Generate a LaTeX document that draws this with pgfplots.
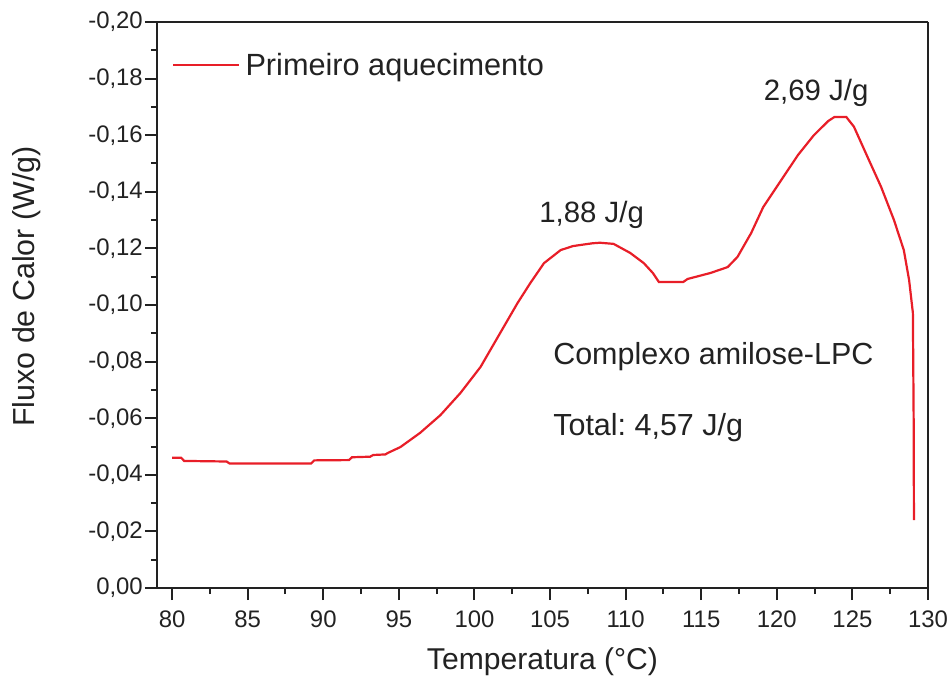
\documentclass[border=0pt]{standalone}
\usepackage{pgfplots}
\pgfplotsset{compat=1.18}
\usepackage{fontspec}
\setmainfont{Liberation Sans}
\frenchspacing

\definecolor{curvered}{RGB}{232,30,40}
\definecolor{inkgray}{RGB}{34,34,34}

% DSC heating curve, first heating
\pgfplotstableread{
T      q
80.0   -0.0460
80.6   -0.0460
80.8   -0.0449
83.6   -0.0447
83.8   -0.0440
89.2   -0.0440
89.4   -0.0451
91.7   -0.0452
91.9   -0.0462
93.1   -0.0464
93.3   -0.0470
94.1   -0.0472
94.3   -0.0478
95.1   -0.0498
96.4   -0.0548
97.75  -0.0611
99.07  -0.0689
100.4  -0.0781
101.7  -0.0901
102.85 -0.1007
103.7  -0.1078
104.6  -0.1148
105.7  -0.1194
106.5  -0.1208
107.0  -0.1212
107.8  -0.1218
108.3  -0.1220
109.2  -0.1216
110.3  -0.1184
111.2  -0.1148
111.8  -0.1113
112.2  -0.1081
113.8  -0.1081
114.1  -0.1092
115.6  -0.1113
116.75 -0.1134
117.4  -0.1170
118.3  -0.1254
119.1  -0.1346
120.3  -0.1442
121.4  -0.1530
122.45 -0.1600
123.4  -0.1650
123.8  -0.1664
124.6  -0.1664
125.1  -0.1630
126.0  -0.1523
126.9  -0.1417
127.75 -0.1300
128.4  -0.1194
128.75 -0.1088
129.0  -0.0972
129.05 -0.0600
129.07 -0.0240
}\heating

\begin{document}
\begin{tikzpicture}[x=1bp,y=1bp]
\useasboundingbox (-157,-98) rectangle (795,588);
\begin{axis}[
  scale only axis,
  width=771bp, height=566bp,
  at={(0,0)}, anchor=south west,
  xmin=79, xmax=130,
  ymin=-0.2, ymax=0,
  y dir=reverse,
  xtick={80,85,90,95,100,105,110,115,120,125,130},
  ytick={-0.20,-0.18,-0.16,-0.14,-0.12,-0.10,-0.08,-0.06,-0.04,-0.02,0},
  yticklabels={{-0,20},{-0,18},{-0,16},{-0,14},{-0,12},{-0,10},{-0,08},{-0,06},{-0,04},{-0,02},{0,00}},
  minor x tick num=1,
  minor y tick num=1,
  xtick pos=bottom, ytick pos=left,
  tick align=outside,
  major tick length=12bp,
  minor tick length=6bp,
  tick style={inkgray, line width=2bp},
  separate axis lines,
  axis line style={inkgray, line width=2.2bp},
  tick label style={inkgray, font=\fontsize{24}{28}\selectfont},
  xticklabel style={inner sep=0pt, yshift=-11bp},
  yticklabel style={inner sep=2bp},
  /pgf/number format/assume math mode=true,
  xlabel={Temperatura (°C)},
  ylabel={Fluxo de Calor (W/g)},
  label style={inkgray},
  xlabel style={font=\fontsize{30.2}{34}\selectfont, at={(axis description cs:0.5,-0.1307)}, anchor=center},
  ylabel style={font=\fontsize{30.5}{35}\selectfont, at={(axis description cs:-0.1686,0.5327)}, anchor=center},
  legend style={at={(axis cs:80,-0.1848)}, anchor=west, draw=none, fill=none,
    inner sep=0pt, font=\fontsize{30.8}{35}\selectfont, text=inkgray},
  legend cell align=left,
  legend image code/.code={\draw[curvered, line width=2.2bp] (0bp,0bp) -- (66bp,0bp);},
  clip=false,
]
\addplot[curvered, line width=2.2bp] table[x=T, y=q] {\heating};
\addlegendentry{\hspace{3bp}Primeiro aquecimento}

\node[inkgray, font=\fontsize{29.5}{34}\selectfont] at (axis cs:107.75,-0.1318) {1,88 J/g};
\node[inkgray, font=\fontsize{29.5}{34}\selectfont] at (axis cs:122.6,-0.1749) {2,69 J/g};
\node[inkgray, font=\fontsize{30.6}{35}\selectfont, anchor=west, inner sep=0pt] at (axis cs:105.2,-0.0816) {Complexo amilose-LPC};
\node[inkgray, font=\fontsize{30.6}{35}\selectfont, anchor=west, inner sep=0pt] at (axis cs:105.2,-0.0565) {Total: 4,57 J/g};
\end{axis}
\end{tikzpicture}
\end{document}
